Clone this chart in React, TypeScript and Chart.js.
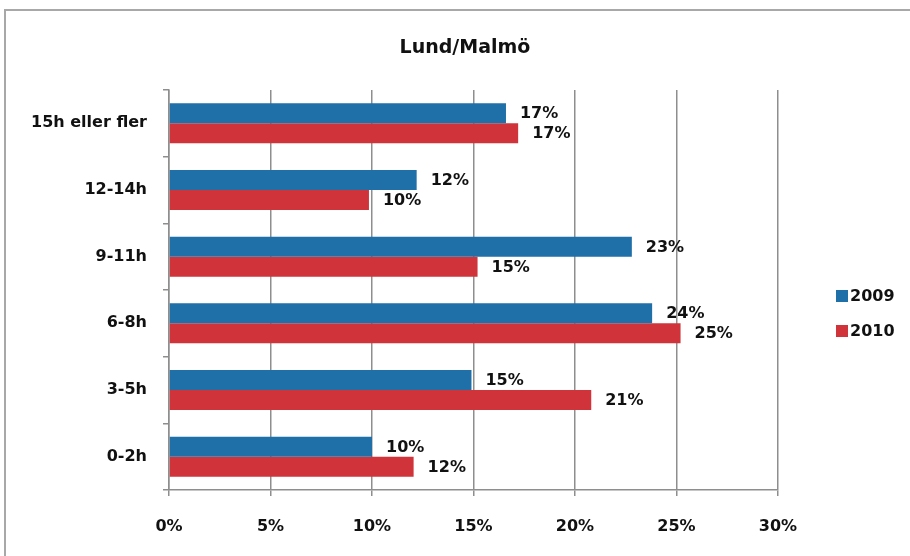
import React, { useEffect, useRef } from "react";
import { Chart, registerables } from "chart.js";

Chart.register(...registerables);

const title = "Lund/Malmö";
const categories = ["15h eller fler", "12-14h", "9-11h", "6-8h", "3-5h", "0-2h"];
const seriesNames = ["2009", "2010"];
const values2009 = [16.6, 12.2, 22.8, 23.8, 14.9, 10.0];
const values2010 = [17.2, 9.85, 15.2, 25.2, 20.8, 12.05];
const seriesColors = ["#1F6FA8", "#D0343A"];
const xTickMax = 30;
const xTickStep = 5;

const FONT = "DejaVu Sans";
const GRID = "#8e8e8e";

const framePlugin = {
  id: "frame",
  beforeDraw(chart: any) {
    const ctx = chart.ctx;
    ctx.save();
    ctx.fillStyle = "#ffffff";
    ctx.fillRect(0, 0, chart.width, chart.height);
    ctx.strokeStyle = "#a8a8a8";
    ctx.lineWidth = 2;
    ctx.strokeRect(5, 10, chart.width + 20, chart.height + 20);
    ctx.fillStyle = "#111111";
    ctx.font = `bold 19px "${FONT}"`;
    ctx.textAlign = "center";
    ctx.textBaseline = "middle";
    ctx.fillText(title, 465, 48);
    ctx.restore();
  },
  afterDatasetsDraw(chart: any) {
    const ctx = chart.ctx;
    ctx.save();
    ctx.font = `bold 16px "${FONT}"`;
    ctx.fillStyle = "#111111";
    ctx.textAlign = "left";
    ctx.textBaseline = "middle";
    chart.data.datasets.forEach((ds: any, di: number) => {
      const meta = chart.getDatasetMeta(di);
      meta.data.forEach((el: any, i: number) => {
        const v = ds.data[i] as number;
        ctx.fillText(Math.round(v) + "%", el.x + 14, el.y + 1);
      });
    });
    // legend
    const legendY = [296, 331];
    chart.data.datasets.forEach((ds: any, di: number) => {
      const y = legendY[di];
      ctx.fillStyle = ds.backgroundColor;
      ctx.fillRect(836, y - 6, 12, 12);
      ctx.fillStyle = "#111111";
      ctx.fillText(ds.label, 850, y + 1);
    });
    ctx.restore();
  },
};

export default function App() {
  const ref = useRef<HTMLCanvasElement | null>(null);
  useEffect(() => {
    if (!ref.current) return;
    const chart = new Chart(ref.current, {
      type: "bar",
      data: {
        labels: categories,
        datasets: [
          { label: seriesNames[0], data: values2009, backgroundColor: seriesColors[0] },
          { label: seriesNames[1], data: values2010, backgroundColor: seriesColors[1] },
        ],
      },
      options: {
        indexAxis: "y",
        responsive: false,
        animation: false,
        devicePixelRatio: 1,
        layout: { padding: { left: 0, right: 132, top: 90, bottom: 0 } },
        datasets: { bar: { categoryPercentage: 0.6, barPercentage: 1.0 } },
        plugins: {
          legend: { display: false },
          title: { display: false },
          tooltip: { enabled: false },
        },
        scales: {
          x: {
            min: 0,
            max: xTickMax,
            afterFit(scale: any) {
              scale.height = 66;
            },
            ticks: {
              stepSize: xTickStep,
              padding: 21,
              color: "#111111",
              font: { family: FONT, size: 16, weight: "bold" },
              callback: (v: any) => v + "%",
            },
            grid: { color: GRID, lineWidth: 1.5, tickLength: 6, drawTicks: true },
            border: { display: true, color: GRID, width: 1.5 },
          },
          y: {
            afterFit(scale: any) {
              scale.width = 169;
            },
            ticks: {
              padding: 16,
              color: "#111111",
              font: { family: FONT, size: 16, weight: "bold" },
            },
            grid: { drawOnChartArea: false, drawTicks: true, tickLength: 6, color: GRID, lineWidth: 1.5, offset: true },
            border: { display: true, color: GRID, width: 1.5 },
          },
        },
      },
      plugins: [framePlugin],
    } as any);
    return () => chart.destroy();
  }, []);
  return (
    <div style={{ position: "absolute", left: 0, top: 0, width: 910, height: 556 }}>
      <canvas ref={ref} width={910} height={556} />
    </div>
  );
}
